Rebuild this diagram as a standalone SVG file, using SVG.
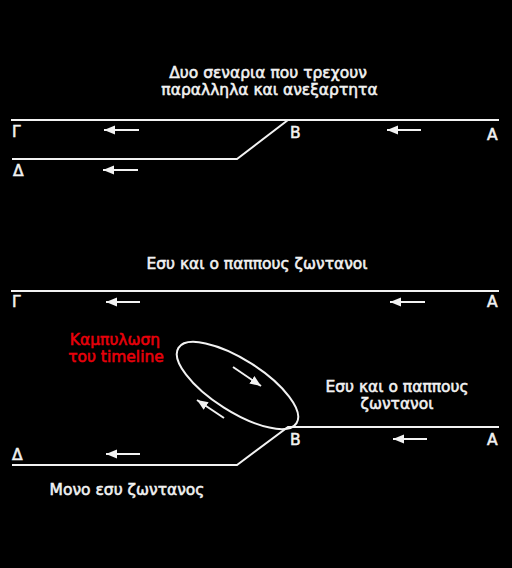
<svg xmlns="http://www.w3.org/2000/svg" width="512" height="568" viewBox="0 0 512 568">
<defs>
<style>
.t{font-family:"DejaVu Sans","Liberation Sans",sans-serif;font-size:15.5px;fill:#f2f2f2;stroke:#f2f2f2;stroke-width:0.55px;}
.c{text-anchor:middle;}
.r{fill:#e8000b;stroke:#e8000b;}
.trk{stroke:#f2f2f2;stroke-width:2;fill:none;}
.arr{stroke:#f2f2f2;stroke-width:2;fill:none;marker-end:url(#ah);}
</style>
<marker id="ah" markerUnits="userSpaceOnUse" markerWidth="12" markerHeight="10" refX="11" refY="5" orient="auto">
<path d="M0,0.5 L11,5 L0,9.5 z" fill="#f2f2f2"/>
</marker>
</defs>
<rect width="512" height="568" fill="#000"/>
<g id="connectors">
<path class="trk" d="M11,120 H499"/>
<path class="trk" d="M12,159 H237 L288,120"/>
<path class="trk" d="M11,291 H499"/>
<path class="trk" d="M12,465 H237 L288,427 H499"/>
<ellipse class="trk" cx="237.5" cy="385.5" rx="70" ry="26" transform="rotate(32.5 237.5 385.5)"/>
<path class="arr" d="M139,130 H104"/>
<path class="arr" d="M421,130 H387"/>
<path class="arr" d="M138,170 H103"/>
<path class="arr" d="M140,302 H106"/>
<path class="arr" d="M425,302 H390"/>
<path class="arr" d="M140,454 H106"/>
<path class="arr" d="M427,439 H393"/>
<path class="arr" d="M233,367 L261,386"/>
<path class="arr" d="M224,418 L197,400"/>
</g>
<g id="title1"><text class="t c" x="268" y="77.5">Δυο σεναρια που τρεχουν</text><text class="t c" x="269.5" y="95">παραλληλα και ανεξαρτητα</text></g>
<g id="G1"><text class="t" x="12" y="137">Γ</text></g>
<g id="B1"><text class="t" x="290" y="138">Β</text></g>
<g id="A1"><text class="t" x="487" y="140">Α</text></g>
<g id="D1"><text class="t" x="13" y="176">Δ</text></g>
<g id="title2"><text class="t c" x="257" y="269">Εσυ και ο παππους ζωντανοι</text></g>
<g id="G2"><text class="t" x="12" y="307">Γ</text></g>
<g id="A2"><text class="t" x="487" y="307">Α</text></g>
<g id="curve"><text class="t c r" x="115" y="345">Καμπυλωση</text><text class="t c r" x="116" y="362">του timeline</text></g>
<g id="both"><text class="t c" x="397" y="392">Εσυ και ο παππους</text><text class="t c" x="397" y="409">ζωντανοι</text></g>
<g id="B2"><text class="t" x="290" y="445">Β</text></g>
<g id="A3"><text class="t" x="487" y="445">Α</text></g>
<g id="D2"><text class="t" x="12" y="460">Δ</text></g>
<g id="only"><text class="t c" x="127" y="495">Μονο εσυ ζωντανος</text></g>
</svg>
